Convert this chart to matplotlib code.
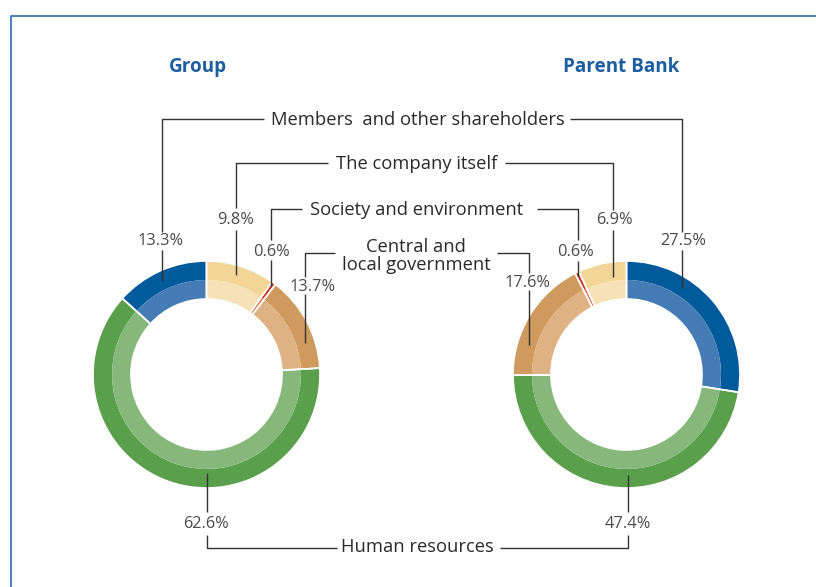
import matplotlib.pyplot as plt

plt.rcParams['font.family'] = ['Open Sans', 'DejaVu Sans']

# order: clockwise from top for Group, counter-clockwise for Parent Bank
categories = ['The company itself', 'Society and environment',
              'Central and local government', 'Human resources',
              'Members and other shareholders']
group_vals = [9.8, 0.6, 13.7, 62.6, 13.3]
parent_vals = [6.9, 0.6, 17.6, 47.4, 27.5]

dark_cols = ['#f3d598', '#cc3420', '#cf9a5e', '#5aa04c', '#005a9c']
light_cols = ['#f7e1b6', '#e07050', '#deb283', '#87b87b', '#467cb5']

W, H = 816, 587
fig = plt.figure(figsize=(W / 100, H / 100), dpi=100)
ax = fig.add_axes([0, 0, 1, 1])
ax.set_xlim(0, W)
ax.set_ylim(0, H)
ax.set_aspect('equal')
ax.axis('off')


def Y(y):
    return H - y


def donut(cx, cy, vals, ccw):
    c = (cx, Y(cy))
    ax.pie(vals, colors=dark_cols, radius=113.5, center=c, startangle=90,
           counterclock=ccw, wedgeprops=dict(width=19, linewidth=0))
    ax.pie(vals, colors=light_cols, radius=94.5, center=c, startangle=90,
           counterclock=ccw, wedgeprops=dict(width=19, linewidth=0))
    ax.pie(vals, colors=['none'] * len(vals), radius=113.5, center=c,
           startangle=90, counterclock=ccw,
           wedgeprops=dict(width=38, edgecolor='white', linewidth=1.2))


donut(206.5, 374.5, group_vals, False)
donut(626.5, 374.5, parent_vals, True)

ax.set_xlim(0, W)
ax.set_ylim(0, H)

# frame
ax.plot([11, 11, W], [Y(H), Y(16), Y(16)], color='#2a6aae', lw=1.2,
        clip_on=False)

# titles
tcol = '#1c5e9e'
ax.text(198, Y(67), 'Group', ha='center', va='center', fontsize=13.6,
        fontweight='bold', color=tcol)
ax.text(621.5, Y(67), 'Parent Bank', ha='center', va='center',
        fontsize=13.6, fontweight='bold', color=tcol)

lc = '#333333'
lw = 1.0


def seg(xs, ys):
    ax.plot(xs, [Y(v) for v in ys], color=lc, lw=lw, solid_capstyle='butt')


def lab(x, y, s, size=13.2, col='#2a2a2a', **kw):
    ax.text(x, Y(y), s, ha='center', va='center', fontsize=size, color=col,
            **kw)


pc = '#4a4a4a'
ps = 11.8

# category labels
lab(418, 120, 'Members  and other shareholders')
lab(417, 164, 'The company itself')
lab(417, 210, 'Society and environment')
lab(416, 256, 'Central and\nlocal government', linespacing=1.0)
lab(417.5, 547, 'Human resources')

# Group leaders
seg([162, 162, 264], [232, 119, 119])
seg([162, 162], [250, 281])
lab(161, 241, f'{group_vals[4]}%', ps, pc)

seg([236, 236, 328], [208, 163, 163])
seg([236, 236], [230, 275])
lab(236, 220, f'{group_vals[0]}%', ps, pc)

seg([271, 271, 302], [240, 209, 209])
seg([271, 271], [260, 286])
lab(271, 252, f'{group_vals[1]}%', ps, pc)

seg([305, 305, 335], [277, 253, 253])
seg([305, 305], [294, 343])
lab(313, 287, f'{group_vals[2]}%', ps, pc)

seg([206.5, 206.5], [473, 512])
seg([206.5, 206.5, 337], [535, 548, 548])
lab(206, 524, f'{group_vals[3]}%', ps, pc)

# Parent Bank leaders
seg([570, 682, 682], [119, 119, 232])
seg([682, 682], [250, 288])
lab(683, 241, f'{parent_vals[4]}%', ps, pc)

seg([505, 613, 613], [163, 163, 210])
seg([613, 613], [230, 277])
lab(614, 220, f'{parent_vals[0]}%', ps, pc)

seg([537, 578, 578], [209, 209, 240])
seg([578, 578], [261, 276])
lab(576, 252, f'{parent_vals[1]}%', ps, pc)

seg([497, 529, 529], [253, 253, 273])
seg([529, 529], [290, 345])
lab(527, 283, f'{parent_vals[2]}%', ps, pc)

seg([627.5, 627.5], [475, 512])
seg([500, 627.5, 627.5], [548, 548, 535])
lab(627.5, 524, f'{parent_vals[3]}%', ps, pc)

fig.savefig('out.png', dpi=100, facecolor='white')
